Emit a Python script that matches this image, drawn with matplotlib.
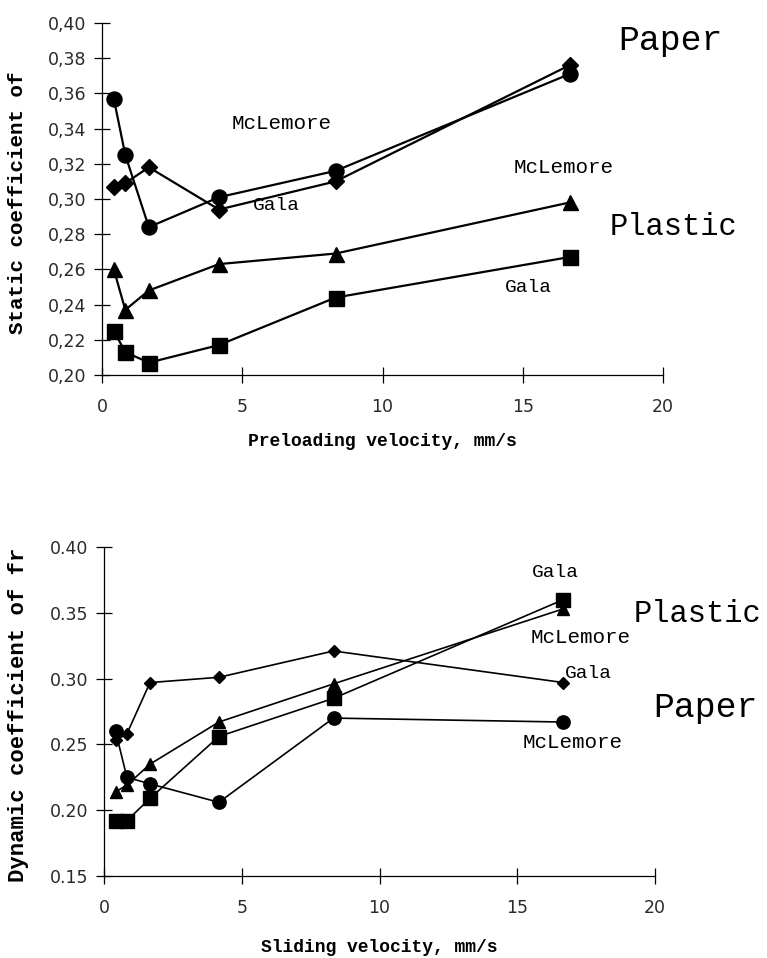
import matplotlib
matplotlib.use("Agg")
import matplotlib.pyplot as plt

# ---------------- data ----------------
velocity = [0.42, 0.83, 1.67, 4.17, 8.33, 16.67]

# Static coefficient of friction (top)
static_paper_mclemore = [0.357, 0.325, 0.284, 0.301, 0.316, 0.371]
static_paper_gala = [0.307, 0.309, 0.318, 0.294, 0.310, 0.376]
static_plastic_mclemore = [0.260, 0.237, 0.248, 0.263, 0.269, 0.298]
static_plastic_gala = [0.225, 0.213, 0.207, 0.217, 0.244, 0.267]

# Dynamic coefficient of friction (bottom)
dyn_paper_mclemore = [0.260, 0.225, 0.220, 0.206, 0.270, 0.267]
dyn_paper_gala = [0.253, 0.258, 0.297, 0.301, 0.321, 0.297]
dyn_plastic_mclemore = [0.214, 0.219, 0.235, 0.267, 0.296, 0.353]
dyn_plastic_gala = [0.192, 0.192, 0.209, 0.256, 0.285, 0.360]

x_ticks = [0, 5, 10, 15, 20]
top_yticks = [0.20, 0.22, 0.24, 0.26, 0.28, 0.30, 0.32, 0.34, 0.36, 0.38, 0.40]
top_yticklabels = ["0,20", "0,22", "0,24", "0,26", "0,28", "0,30", "0,32",
                   "0,34", "0,36", "0,38", "0,40"]
bot_yticks = [0.15, 0.20, 0.25, 0.30, 0.35, 0.40]
bot_yticklabels = ["0.15", "0.20", "0.25", "0.30", "0.35", "0.40"]

MONO = "Liberation Mono"
TICKFONT = "DejaVu Sans"

fig = plt.figure(figsize=(7.67, 9.58), dpi=100)
ax1 = fig.add_axes([0.1330, 0.6086, 0.7314, 0.3674])
ax2 = fig.add_axes([0.1356, 0.0856, 0.7184, 0.3434])


def style_axes(ax, yticks, yticklabels):
    for s in ("top", "right"):
        ax.spines[s].set_visible(False)
    for s in ("left", "bottom"):
        ax.spines[s].set_linewidth(0.9)
        ax.spines[s].set_color("black")
    ax.set_xlim(0, 20)
    ax.set_xticks(x_ticks)
    ax.set_xticklabels([str(v) for v in x_ticks], fontfamily=TICKFONT,
                       fontsize=12.5, color="#2a2a2a")
    ax.set_yticks(yticks)
    ax.set_yticklabels(yticklabels, fontfamily=TICKFONT, fontsize=12.5,
                       color="#2a2a2a")
    ax.tick_params(axis="both", direction="inout", length=11, width=0.9,
                   color="black")
    ax.tick_params(axis="x", pad=11)
    ax.tick_params(axis="y", pad=6)


# ---------------- top chart ----------------
lw1 = 1.6
ax1.plot(velocity, static_paper_mclemore, color="black", lw=lw1, marker="o",
         ms=10.8, clip_on=False)
ax1.plot(velocity, static_paper_gala, color="black", lw=lw1, marker="D",
         ms=7.8, clip_on=False)
ax1.plot(velocity, static_plastic_mclemore, color="black", lw=lw1, marker="^",
         ms=10.8, clip_on=False)
ax1.plot(velocity, static_plastic_gala, color="black", lw=lw1, marker="s",
         ms=10.8, clip_on=False)
ax1.set_ylim(0.20, 0.40)
style_axes(ax1, top_yticks, top_yticklabels)

ax1.set_ylabel("Static coefficient of", fontfamily=MONO, fontweight="bold",
               fontsize=15, va="center")
ax1.yaxis.set_label_coords(-0.150, 0.49)
ax1.set_xlabel("Preloading velocity, mm/s", fontfamily=MONO,
               fontweight="bold", fontsize=13, va="center")
ax1.xaxis.set_label_coords(0.5, -0.19)

ax1.text(20.25, 0.3847, "Paper", fontfamily=MONO, fontsize=25,
         ha="center", va="baseline")
ax1.text(6.42, 0.3398, "McLemore", fontfamily=MONO, fontsize=15,
         ha="center", va="baseline")
ax1.text(6.2, 0.2937, "Gala", fontfamily=MONO, fontsize=14,
         ha="center", va="baseline")
ax1.text(16.47, 0.3148, "McLemore", fontfamily=MONO, fontsize=15,
         ha="center", va="baseline")
ax1.text(20.36, 0.2795, "Plastic", fontfamily=MONO, fontsize=22,
         ha="center", va="baseline")
ax1.text(15.19, 0.2472, "Gala", fontfamily=MONO, fontsize=14,
         ha="center", va="baseline")

# ---------------- bottom chart ----------------
lw2 = 1.2
ax2.plot(velocity, dyn_paper_mclemore, color="black", lw=lw2, marker="o",
         ms=9.6, clip_on=False)
ax2.plot(velocity, dyn_paper_gala, color="black", lw=lw2, marker="D",
         ms=6.2, clip_on=False)
ax2.plot(velocity, dyn_plastic_mclemore, color="black", lw=lw2, marker="^",
         ms=9.0, clip_on=False)
ax2.plot(velocity, dyn_plastic_gala, color="black", lw=lw2, marker="s",
         ms=9.6, clip_on=False)
ax2.set_ylim(0.15, 0.40)
style_axes(ax2, bot_yticks, bot_yticklabels)

ax2.set_ylabel("Dynamic coefficient of fr", fontfamily=MONO,
               fontweight="bold", fontsize=16, va="center")
ax2.yaxis.set_label_coords(-0.156, 0.49)
ax2.set_xlabel("Sliding velocity, mm/s", fontfamily=MONO, fontweight="bold",
               fontsize=13, va="center")
ax2.xaxis.set_label_coords(0.5, -0.216)

ax2.text(16.37, 0.3772, "Gala", fontfamily=MONO, fontsize=14,
         ha="center", va="baseline")
ax2.text(23.85, 0.343, "Plastic", fontfamily=MONO, fontsize=22,
         ha="right", va="baseline")
ax2.text(17.31, 0.3271, "McLemore", fontfamily=MONO, fontsize=15,
         ha="center", va="baseline")
ax2.text(17.57, 0.3005, "Gala", fontfamily=MONO, fontsize=14,
         ha="center", va="baseline")
ax2.text(19.93, 0.2708, "Paper", fontfamily=MONO, fontsize=25,
         ha="left", va="baseline")
ax2.text(17.02, 0.2473, "McLemore", fontfamily=MONO, fontsize=15,
         ha="center", va="baseline")

fig.savefig("out.png", dpi=100)
